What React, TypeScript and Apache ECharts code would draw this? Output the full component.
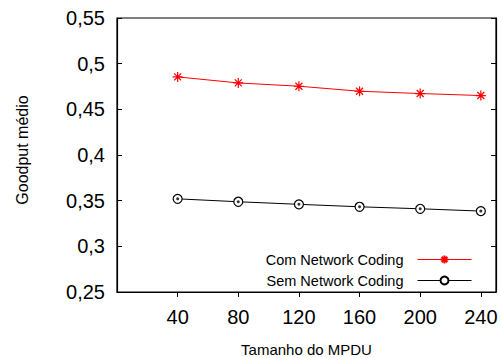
import React, { useEffect, useRef } from "react";
import * as echarts from "echarts";

const xValues = [40, 80, 120, 160, 200, 240];
const comNC = [0.4855, 0.4789, 0.4753, 0.4698, 0.4673, 0.4651];
const semNC = [0.352, 0.3488, 0.346, 0.3433, 0.3411, 0.3386];
const xTicks = [40, 80, 120, 160, 200, 240];
const seriesNames = ["Com Network Coding", "Sem Network Coding"];

const FONT = "Liberation Sans, Arial, Helvetica, sans-serif";
const STAR = "path://M5 0 L5 10 M0 5 L10 5 M1.5 1.5 L8.5 8.5 M1.5 8.5 L8.5 1.5";

export default function App() {
  const ref = useRef<HTMLDivElement>(null);
  useEffect(() => {
    if (!ref.current) return;
    const chart = echarts.init(ref.current, null, { renderer: "svg" });
    const pairs = (ys: number[]) => xValues.map((x, i) => [x, ys[i]]);
    const yFmt = (v: number) => String(+v.toFixed(2)).replace(".", ",");
    chart.setOption({
      animation: false,
      backgroundColor: "#fff",
      textStyle: { fontFamily: FONT },
      grid: {
        left: 117,
        right: 5,
        top: 18,
        bottom: 66,
        outerBoundsMode: "none",
        containLabel: false,
        show: true,
        borderColor: "#000",
        borderWidth: 1.2,
        backgroundColor: "transparent",
      },
      xAxis: {
        type: "value",
        min: 0,
        max: 250,
        interval: 40,
        name: "Tamanho do MPDU",
        nameLocation: "middle",
        nameGap: 50,
        nameTextStyle: { fontSize: 15, color: "#000", fontFamily: FONT },
        splitLine: { show: false },
        axisLine: { show: true, onZero: false, lineStyle: { color: "#000", width: 1.2 } },
        axisTick: { show: true, inside: false, length: 5, customValues: xTicks, lineStyle: { color: "#000" } },
        axisLabel: {
          customValues: xTicks,
          fontSize: 20,
          color: "#000",
          margin: 15,
          fontFamily: FONT,
        },
      },
      yAxis: [
        {
          type: "value",
          min: 0.25,
          max: 0.55,
          interval: 0.05,
          splitLine: { show: false },
          axisLine: { show: true, lineStyle: { color: "#000", width: 1.2 } },
          axisTick: { show: true, inside: true, length: 5, lineStyle: { color: "#000" } },
          axisLabel: { fontSize: 20, color: "#000", margin: 12, formatter: yFmt, fontFamily: FONT },
        },
        {
          type: "value",
          position: "right",
          min: 0.25,
          max: 0.55,
          interval: 0.05,
          splitLine: { show: false },
          axisLine: { show: true, lineStyle: { color: "#000", width: 1.2 } },
          axisTick: { show: true, inside: true, length: 5, lineStyle: { color: "#000" } },
          axisLabel: { show: false },
        },
      ],
      legend: {
        data: seriesNames,
        orient: "vertical",
        align: "right",
        right: 29,
        top: 252,
        padding: 0,
        itemWidth: 54,
        itemHeight: 10,
        itemGap: 6,
        lineStyle: { width: 1 },
        textStyle: { fontSize: 14.5, color: "#000", fontFamily: FONT, padding: [0, 9, 0, 0] },
      },
      graphic: [
        {
          type: "text",
          x: 22,
          y: 150,
          rotation: Math.PI / 2,
          style: {
            text: "Goodput médio",
            fontSize: 16,
            fontFamily: FONT,
            fill: "#000",
            align: "center",
            verticalAlign: "middle",
          },
        },
      ],
      series: [
        {
          name: seriesNames[0],
          type: "line",
          data: pairs(comNC),
          symbol: STAR,
          symbolSize: 10,
          lineStyle: { color: "#ff0000", width: 1 },
          itemStyle: { color: "transparent", borderColor: "#ff0000", borderWidth: 1.2 },
        },
        {
          name: seriesNames[1],
          type: "line",
          data: pairs(semNC),
          symbol: "circle",
          symbolSize: 9,
          lineStyle: { color: "#000", width: 1 },
          itemStyle: { color: "#fff", borderColor: "#000", borderWidth: 1.2 },
        },
        {
          name: "dots",
          type: "scatter",
          data: pairs(semNC),
          symbol: "circle",
          symbolSize: 3,
          itemStyle: { color: "#000" },
          z: 5,
        },
      ],
    });
    return () => chart.dispose();
  }, []);
  return (
    <div
      ref={ref}
      style={{ position: "fixed", left: 0, top: 0, width: 501, height: 358 }}
    />
  );
}
